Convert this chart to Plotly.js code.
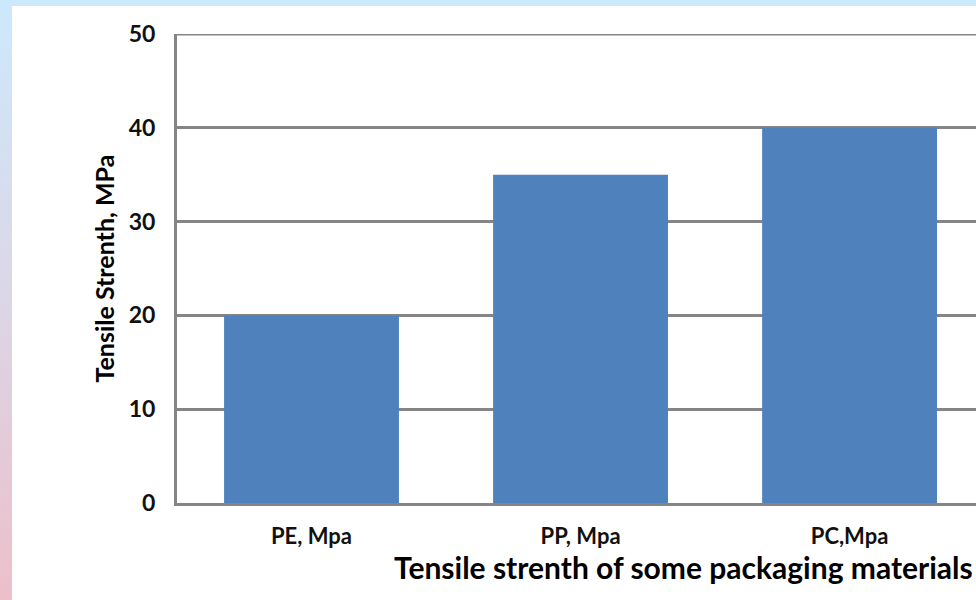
<!DOCTYPE html>
<html>
<head>
<meta charset="utf-8">
<script src="https://cdn.plot.ly/plotly-3.0.1.min.js"></script>
<style>
  html, body { margin: 0; padding: 0; width: 976px; height: 600px; overflow: hidden; }
  body { background: linear-gradient(to bottom, #cce9fc 0%, #dcd6e6 50%, #ecbfca 100%); position: relative; }
  #chart { position: absolute; left: 12px; top: 6px; width: 964px; height: 594px; background: #ffffff; }
</style>
</head>
<body>
<div id="chart"></div>
<script>
// Tensile strength of common packaging plastics
const categories = ["PE, Mpa", "PP, Mpa", "PC,Mpa"];
const strengthMPa = [20, 35, 40];
const yTicks = [0, 10, 20, 30, 40, 50];

const xTitle = "Tensile strenth of some packaging materials";
const yTitle = "Tensile Strenth, MPa";

const gridGray = "#858585";

const trace = {
  type: "bar",
  x: categories,
  y: strengthMPa,
  marker: { color: "#4f81bd", line: { width: 0 } },
  hoverinfo: "x+y"
};

const layout = {
  width: 964,
  height: 594,
  margin: { l: 165, r: 0, t: 28, b: 97 },
  paper_bgcolor: "#ffffff",
  plot_bgcolor: "#ffffff",
  showlegend: false,
  bargap: 0.35,
  font: { family: "Lato, 'Open Sans', sans-serif", color: "#000000" },
  xaxis: {
    type: "category",
    range: [-0.5, 2.47],
    showgrid: false,
    showline: true,
    linecolor: gridGray,
    linewidth: 3,
    ticks: "",
    ticklabelstandoff: 12,
    tickfont: { family: "Lato, sans-serif", size: 22, color: "#111111", weight: "bold" },
    zeroline: false,
    fixedrange: true
  },
  yaxis: {
    range: [0, 50],
    tickvals: yTicks,
    ticktext: yTicks.map(String),
    showgrid: true,
    gridcolor: gridGray,
    gridwidth: 3,
    showline: true,
    linecolor: gridGray,
    linewidth: 3,
    zeroline: false,
    ticks: "",
    ticklabelstandoff: 14,
    tickfont: { family: "Lato, sans-serif", size: 23, color: "#111111", weight: "bold" },
    fixedrange: true
  },
  shapes: [
    {
      type: "line", xref: "paper", yref: "y",
      x0: 0, x1: 1, y0: 50, y1: 50,
      line: { color: gridGray, width: 3 }
    }
  ],
  annotations: [
    {
      text: "<b>" + xTitle + "</b>",
      xref: "paper", yref: "paper",
      x: 0.634, y: -0.137,
      xanchor: "center", yanchor: "middle",
      showarrow: false,
      font: { family: "Lato, sans-serif", size: 30, color: "#000000", weight: 900 }
    },
    {
      text: "<b>" + yTitle + "</b>",
      xref: "paper", yref: "paper",
      x: -0.0926, y: 0.5,
      xanchor: "center", yanchor: "middle",
      textangle: -90,
      showarrow: false,
      font: { family: "Lato, sans-serif", size: 25, color: "#000000", weight: 900 }
    }
  ]
};

Plotly.newPlot("chart", [trace], layout, { displayModeBar: false, staticPlot: true });
</script>
</body>
</html>
